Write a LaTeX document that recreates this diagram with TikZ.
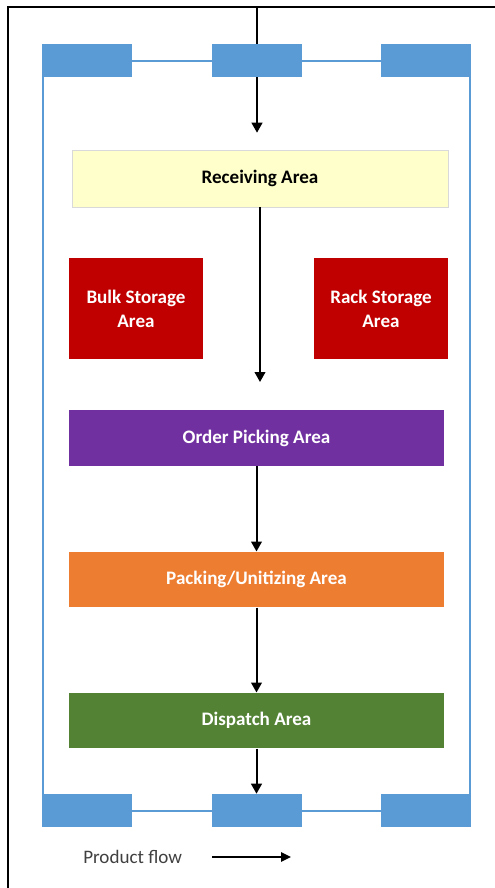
\documentclass[tikz,border=0pt]{standalone}
\usepackage{fontspec}
\setmainfont{Carlito}
\usetikzlibrary{arrows.meta}
\definecolor{gateblue}{HTML}{5B9BD5}
\definecolor{recvyellow}{HTML}{FFFFCC}
\definecolor{storered}{HTML}{C00000}
\definecolor{pickpurple}{HTML}{7030A0}
\definecolor{packorange}{HTML}{ED7D31}
\definecolor{dispgreen}{HTML}{548235}
\definecolor{legendgray}{HTML}{404040}
\tikzset{
  area/.style={inner sep=0pt, font=\bfseries\fontsize{14.3}{18}\selectfont, align=center, text=white},
  longbox/.style={area, minimum width=281.25pt, minimum height=41.6pt},
  storebox/.style={area, fill=storered, minimum width=100.5pt, minimum height=75.75pt},
  gate/.style={fill=gateblue, inner sep=0pt, minimum width=67.5pt, minimum height=24.75pt},
  wall/.style={draw=gateblue, line width=0.9pt},
  flow/.style={line width=1.5pt, -{Triangle[width=8pt,length=7.5pt]}},
}
\begin{document}
\begin{tikzpicture}[x=0.75pt,y=-0.75pt]
\useasboundingbox (0,0) rectangle (495,888);
% outer frame
\draw[line width=1.3pt] (8,888) -- (8,7) -- (496,7);
% coordinates
\coordinate (in) at (257,7);
% walls
\draw[wall] (43,61) -- (470,61);
\draw[wall] (43,811) -- (470,811);
\draw[wall] (43,61) -- (43,811);
\draw[wall] (470,61) -- (470,811);
% areas
\node[longbox, fill=recvyellow, draw=black!15, text=black, minimum width=282pt, minimum height=42.75pt] (recv) at (260,178.5) {Receiving Area};
\node[storebox] (bulk) at (136,308.5) {Bulk Storage\\Area};
\node[storebox] (rack) at (381,308.5) {Rack Storage\\Area};
\node[longbox, fill=pickpurple] (order) at (256.5,438) {Order Picking Area};
\node[longbox, fill=packorange] (pack) at (256.5,579.5) {Packing/Unitizing Area};
\node[longbox, fill=dispgreen] (disp) at (256.5,720.5) {Dispatch Area};
% flow arrows (drawn before gates so gates cover them)
\draw[flow, shorten >=12.75pt] (in) -- (in |- recv.north);
\draw[flow, shorten >=21pt] (recv.south) -- (recv.south |- order.north);
\draw[flow] (order.south) -- (pack.north);
\draw[flow] (pack.south) -- (disp.north);
% gates
\node[gate] (g1) at (87,60.5) {};
\node[gate] (g2) at (256.5,60.5) {};
\node[gate] (g3) at (426,60.5) {};
\node[gate] (g4) at (87,810.5) {};
\node[gate] (g5) at (256.5,810.5) {};
\node[gate] (g6) at (426,810.5) {};
\draw[flow] (disp.south) -- (g5.north);
% legend
\node[anchor=west, inner sep=0pt, text=legendgray, font=\fontsize{14.3}{17}\selectfont] (pf) at (83,857) {Product flow};
\coordinate (la) at (212,857);
\coordinate (lb) at (291,857);
\draw[line width=1.2pt, -{Triangle[width=7pt,length=7.5pt]}] (la) -- (lb);
\end{tikzpicture}
\end{document}
